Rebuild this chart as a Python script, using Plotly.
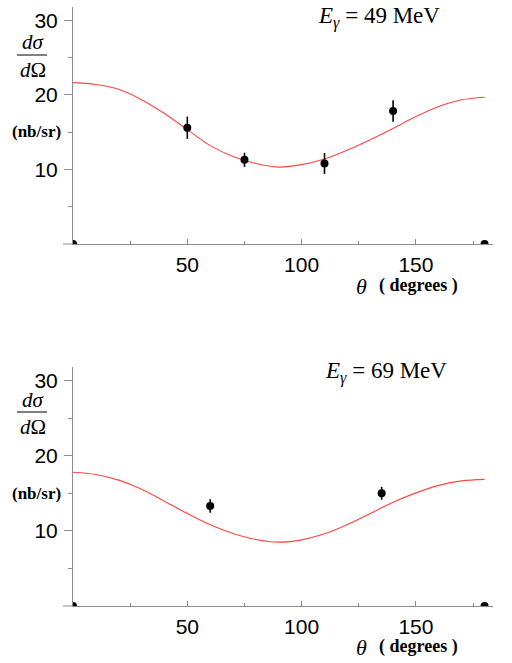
import plotly.graph_objects as go

# angle grid for the model curves (degrees)
theta_curve = [0, 10, 20, 30, 40, 50, 60, 70, 80, 90, 100, 110, 120, 130, 140, 150, 160, 170, 180]

# E_gamma = 49 MeV
curve_49 = [21.65, 21.4, 20.75, 19.35, 17.5, 15.35, 13.2, 11.75, 10.8, 10.32, 10.65, 11.4, 12.6, 14.0, 15.5, 17.1, 18.45, 19.35, 19.7]
theta_49 = [50, 75, 110, 140]
xs_49 = [15.6, 11.3, 10.8, 17.85]
err_49 = [1.5, 0.95, 1.4, 1.45]

# E_gamma = 69 MeV
curve_69 = [17.8, 17.5, 16.75, 15.55, 13.95, 12.3, 10.8, 9.65, 8.85, 8.5, 8.8, 9.6, 10.85, 12.3, 13.8, 15.05, 16.05, 16.65, 16.85]
theta_69 = [60, 135]
xs_69 = [13.3, 15.0]
err_69 = [0.9, 0.85]

# the two dots sitting on the axis corners
theta_ends = [0, 180]
xs_ends = [0, 0]

W, H = 512, 663


def px(x):
    return x / W


def py(y):
    return 1 - y / H


panels = [
    dict(curve=curve_49, th=theta_49, xs=xs_49, err=err_49, label="49",
         top=7, bottom=244, dsig=42, frac=55, domg=70, units=132, title=17, title_x=379, xlab=286),
    dict(curve=curve_69, th=theta_69, xs=xs_69, err=err_69, label="69",
         top=367, bottom=606, dsig=400, frac=412, domg=427, units=493, title=372, title_x=386, xlab=647),
]

fig = go.Figure()
annotations = []
shapes = []
serif = "Liberation Serif"
axis_grey = "#8c8c8c"
sp = "&nbsp;"

for i, p in enumerate(panels):
    n = "" if i == 0 else str(i + 1)
    xa, ya = "x" + n, "y" + n

    fig.add_trace(go.Scatter(
        x=theta_curve, y=p["curve"], mode="lines", line=dict(color="#ff4545", width=1.1, shape="spline"),
        xaxis=xa, yaxis=ya, showlegend=False, hoverinfo="skip"))
    fig.add_trace(go.Scatter(
        x=p["th"], y=p["xs"], mode="markers", marker=dict(color="black", size=8),
        error_y=dict(type="data", array=p["err"], color="black", thickness=1.6, width=0),
        xaxis=xa, yaxis=ya, showlegend=False))
    fig.add_trace(go.Scatter(
        x=theta_ends, y=xs_ends, mode="markers", marker=dict(color="black", size=8),
        xaxis=xa, yaxis=ya, showlegend=False))

    fig.update_layout(**{
        "xaxis" + n: dict(
            domain=[px(73), px(493)], range=[0, 183.7], anchor=ya,
            showline=True, linecolor=axis_grey, linewidth=1, showgrid=False, zeroline=False,
            tickvals=[50, 100, 150], ticks="inside", ticklen=5, tickcolor=axis_grey,
            minor=dict(tickvals=[25, 75, 125, 175], ticks="inside", ticklen=3, tickcolor=axis_grey),
            tickfont=dict(family="Liberation Sans", size=21, color="black"), ticklabelstandoff=2,
        ),
        "yaxis" + n: dict(
            domain=[py(p["bottom"]), py(p["top"])], range=[0, 31.8], anchor=xa,
            showline=True, linecolor=axis_grey, linewidth=1, showgrid=False, zeroline=False,
            tickvals=[10, 20, 30], ticks="outside", ticklen=8, tickcolor=axis_grey,
            minor=dict(tickvals=[5, 15, 25], ticks="outside", ticklen=4, tickcolor=axis_grey),
            tickfont=dict(family="Liberation Sans", size=21, color="black"), ticklabelstandoff=2,
        ),
    })

    # short stub of the theta axis left of the origin
    shapes.append(dict(type="line", xref="paper", yref="paper", x0=px(63), x1=px(73),
                       y0=py(p["bottom"]), y1=py(p["bottom"]), line=dict(color=axis_grey, width=1)))
    # fraction bar of d sigma / d Omega
    shapes.append(dict(type="line", xref="paper", yref="paper", x0=px(17), x1=px(47),
                       y0=py(p["frac"]), y1=py(p["frac"]), line=dict(color="black", width=1)))

    annotations += [
        dict(text="<i>E</i><sub><i>γ</i></sub>" + sp + "=" + sp + p["label"] + sp + "MeV",
             x=px(p["title_x"]), y=py(p["title"]), font=dict(family=serif, size=23)),
        dict(text="<i>dσ</i>", x=px(33), y=py(p["dsig"]), font=dict(family=serif, size=21)),
        dict(text="<i>d</i>Ω", x=px(33), y=py(p["domg"]), font=dict(family=serif, size=21)),
        dict(text="<b>(nb/sr)</b>", x=px(36), y=py(p["units"]), font=dict(family=serif, size=17)),
        dict(text="<i>θ</i>", x=px(361), y=py(p["xlab"]), font=dict(family=serif, size=22)),
        dict(text="<b>(" + sp + "degrees" + sp + ")</b>", x=px(418), y=py(p["xlab"] - 1),
             font=dict(family=serif, size=18)),
    ]

for a in annotations:
    a.update(xref="paper", yref="paper", showarrow=False, xanchor="center", yanchor="middle")
    a["font"]["color"] = "black"

fig.update_layout(
    width=W, height=H, margin=dict(l=0, r=0, t=0, b=0),
    paper_bgcolor="white", plot_bgcolor="white",
    annotations=annotations, shapes=shapes, showlegend=False,
)

fig.write_html("out.html", config={"displayModeBar": False},
               post_script="document.body.style.margin = '0px';")
